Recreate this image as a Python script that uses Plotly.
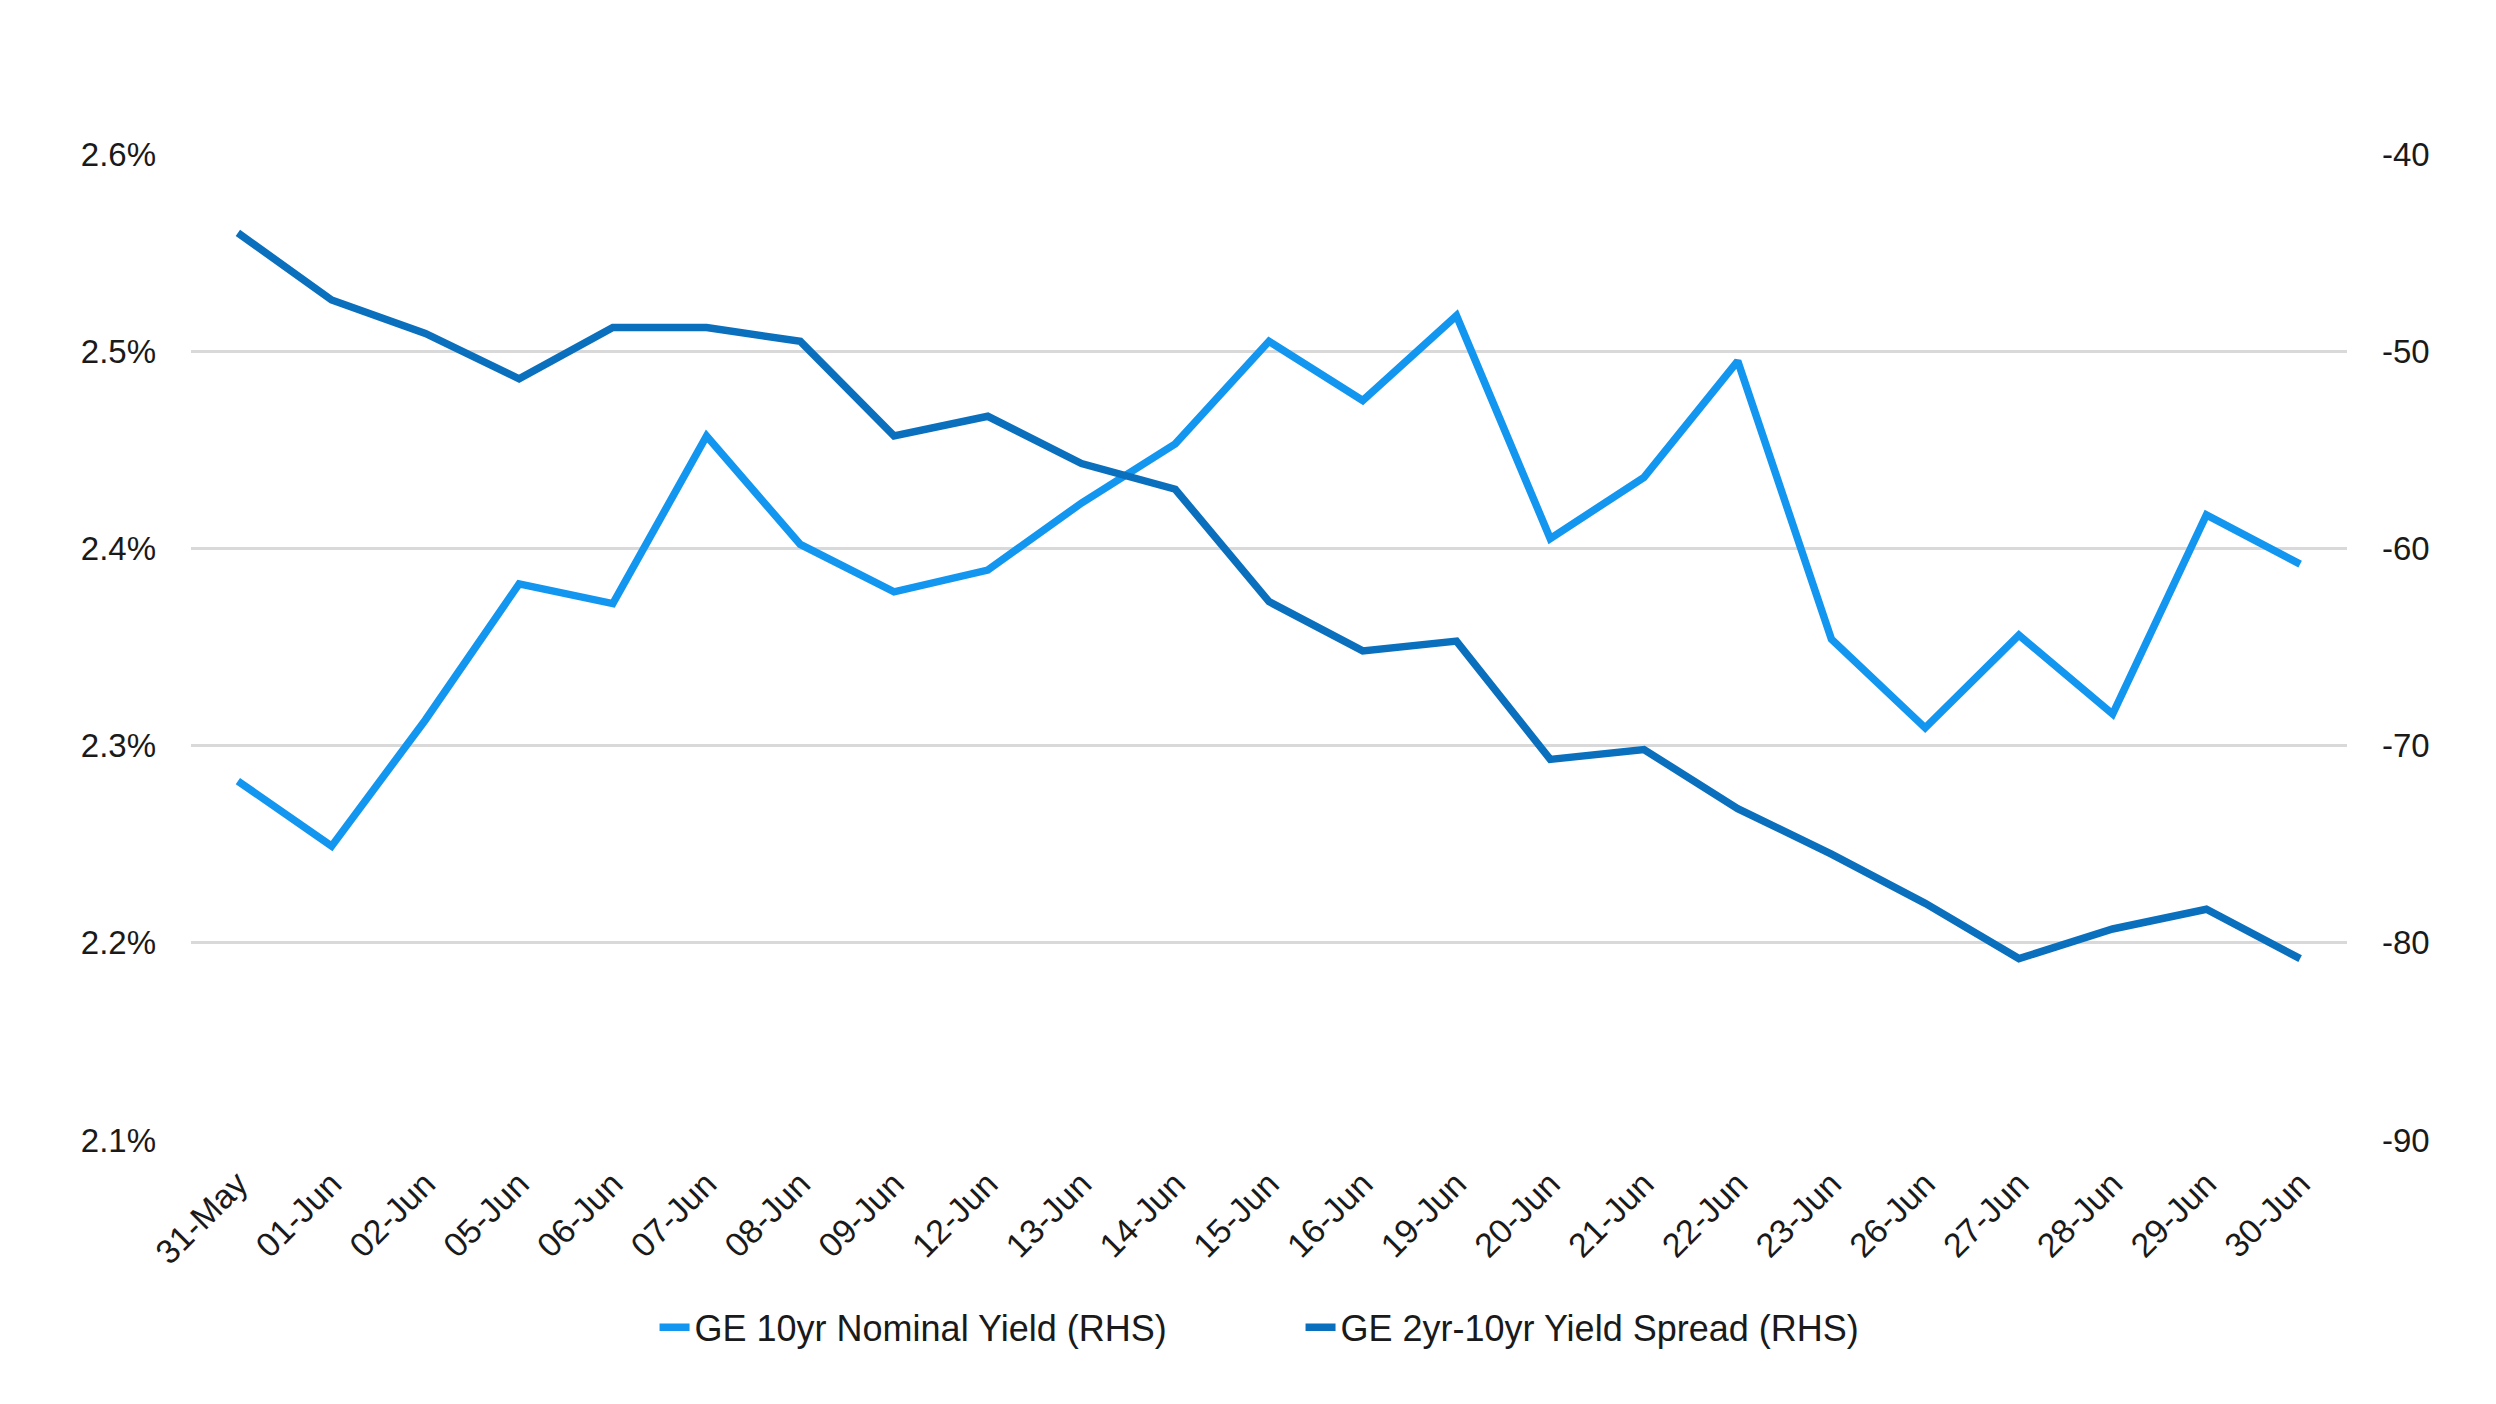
import plotly.graph_objects as go

dates = ["31-May", "01-Jun", "02-Jun", "05-Jun", "06-Jun", "07-Jun", "08-Jun", "09-Jun",
         "12-Jun", "13-Jun", "14-Jun", "15-Jun", "16-Jun", "19-Jun", "20-Jun", "21-Jun",
         "22-Jun", "23-Jun", "26-Jun", "27-Jun", "28-Jun", "29-Jun", "30-Jun"]

nominal_10yr = [2.282, 2.249, 2.313, 2.382, 2.372, 2.457, 2.402, 2.378, 2.389, 2.423, 2.453,
                2.505, 2.475, 2.518, 2.405, 2.436, 2.495, 2.354, 2.309, 2.356, 2.316, 2.417, 2.392]

spread_2s10s = [-44.0, -47.4, -49.1, -51.4, -48.8, -48.8, -49.5, -54.3, -53.3, -55.7, -57.0,
                -62.7, -65.2, -64.7, -70.7, -70.2, -73.2, -75.5, -78.0, -80.8, -79.3, -78.3, -80.8]

right_ticks = [-90, -80, -70, -60, -50, -40]
right_tick_text = ["-90", "-80", "-70", "-60", "-50", "-40"]

name_nominal = "GE 10yr Nominal Yield (RHS)"
name_spread = "GE 2yr-10yr Yield Spread (RHS)"

LIGHT = "#1296F0"
DARK = "#0A70BE"
TICK_FONT = dict(family="Liberation Sans, Arial, sans-serif", size=33, color="#1a1a1a")

fig = go.Figure()
fig.add_trace(go.Scatter(x=dates, y=nominal_10yr, name=name_nominal, mode="lines",
                         line=dict(color=LIGHT, width=7.5), yaxis="y"))
fig.add_trace(go.Scatter(x=dates, y=spread_2s10s, name=name_spread, mode="lines",
                         line=dict(color=DARK, width=7.5), yaxis="y2"))

fig.update_layout(
    width=2496, height=1404,
    paper_bgcolor="white", plot_bgcolor="white",
    margin=dict(l=183, r=157, t=146, b=272),
    showlegend=True,
    legend=dict(orientation="h", x=0.215, xanchor="left", y=-0.19, yanchor="middle",
                font=dict(family="Liberation Sans, Arial, sans-serif", size=36, color="#1a1a1a"),
                entrywidth=601, entrywidthmode="pixels", tracegroupgap=0),
    xaxis=dict(type="category", range=[-0.5, len(dates) - 0.5], tickangle=-45,
               tickfont=dict(family="Liberation Sans, Arial, sans-serif", size=34, color="#1a1a1a"),
               showgrid=False, zeroline=False, showline=False,
               ticks="", ticklabelstandoff=16),
    yaxis=dict(range=[2.1, 2.6], dtick=0.1, tick0=2.1, tickformat=".1f", ticksuffix="%",
               tickfont=TICK_FONT, showgrid=True, gridcolor="#D9D9D9", gridwidth=3,
               zeroline=False, showline=False, ticks="", ticklabelstandoff=34),
    yaxis2=dict(range=[-90, -40], tickmode="array", tickvals=right_ticks, ticktext=right_tick_text,
                overlaying="y", side="right",
                tickfont=TICK_FONT, showgrid=False, zeroline=False, showline=False,
                ticks="", ticklabelstandoff=34),
)

fig.write_html("out.html")
